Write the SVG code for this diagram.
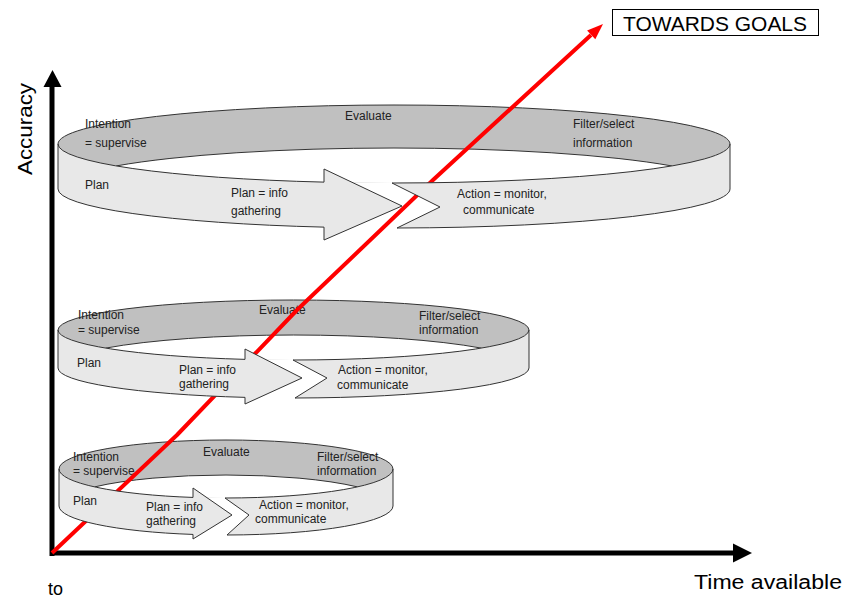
<svg xmlns="http://www.w3.org/2000/svg" width="846" height="599" viewBox="0 0 846 599">
<style>
.back{fill:#c0c0c0;stroke:none}
.hole{fill:#ffffff;stroke:none}
.edge{fill:none;stroke:#333;stroke-width:1}
.front{fill:#e8e8e8;stroke:#333;stroke-width:1;stroke-linejoin:miter}
.t{font-family:"Liberation Sans",Arial,sans-serif;font-size:12px;fill:#222}
.axis{stroke:#000;stroke-width:5;fill:none}
.lbl{font-family:"Liberation Sans",Arial,sans-serif;fill:#000}
</style>
<rect width="846" height="599" fill="#fff"/>

<g id="axes">
  <line class="axis" x1="52" y1="556" x2="52" y2="85"/>
  <polygon points="52.5,70 43.5,87 61.5,87" fill="#000"/>
  <line class="axis" x1="50" y1="553" x2="735" y2="553"/>
  <polygon points="752,553 733,543.5 733,562.5" fill="#000"/>
  <text class="lbl" font-size="21" textLength="92" lengthAdjust="spacingAndGlyphs" transform="translate(32,129) rotate(-90)" text-anchor="middle">Accuracy</text>
  <text class="lbl" x="694" y="589" font-size="20" textLength="148" lengthAdjust="spacingAndGlyphs">Time available</text>
  <text class="lbl" x="48" y="595" font-size="19" textLength="15" lengthAdjust="spacingAndGlyphs">to</text>
</g>

<!-- back halves of the rings -->
<g id="ring-top-back">
  <ellipse class="back" cx="394" cy="144" rx="336" ry="39"/>
  <path class="hole" d="M116.2,165.94 A336,41 0 0 1 671.8,165.94 A336,39 0 0 1 116.2,165.94 Z"/>
  <path class="edge" d="M58,144 A336,39 0 0 1 730,144"/>
  <path class="edge" d="M116.2,165.94 A336,41 0 0 1 671.8,165.94"/>
  <text class="t" x="85" y="128">Intention</text>
  <text class="t" x="85" y="147">= supervise</text>
  <text class="t" x="345" y="120">Evaluate</text>
  <text class="t" x="573" y="128">Filter/select</text>
  <text class="t" x="573" y="147">information</text>
</g>
<g id="ring-mid-back">
  <ellipse class="back" cx="293.5" cy="330" rx="235.5" ry="30"/>
  <path class="hole" d="M105.66,348.1 A235.5,33 0 0 1 481.34,348.1 A235.5,30 0 0 1 105.66,348.1 Z"/>
  <path class="edge" d="M58,330 A235.5,30 0 0 1 529,330"/>
  <path class="edge" d="M105.66,348.1 A235.5,33 0 0 1 481.34,348.1"/>
  <text class="t" x="78" y="319">Intention</text>
  <text class="t" x="78" y="334">= supervise</text>
  <text class="t" x="259" y="314">Evaluate</text>
  <text class="t" x="419" y="320">Filter/select</text>
  <text class="t" x="419" y="334">information</text>
</g>
<g id="ring-bot-back">
  <ellipse class="back" cx="226" cy="469" rx="167" ry="29"/>
  <path class="hole" d="M94.53,486.9 A167,31 0 0 1 357.47,486.9 A167,29 0 0 1 94.53,486.9 Z"/>
  <path class="edge" d="M59,469 A167,29 0 0 1 393,469"/>
  <path class="edge" d="M94.53,486.9 A167,31 0 0 1 357.47,486.9"/>
  <text class="t" x="73" y="461">Intention</text>
  <text class="t" x="73" y="475">= supervise</text>
  <text class="t" x="203" y="456">Evaluate</text>
  <text class="t" x="317" y="461">Filter/select</text>
  <text class="t" x="317" y="475">information</text>
</g>

<g id="connectors">
  <polyline points="52,553 177,435 297,310 433,180 591,35" fill="none" stroke="#ff0000" stroke-width="4" stroke-linejoin="round"/>
  <polygon points="603,24 595.3,39.2 587.1,30.4" fill="#ff0000"/>
</g>

<!-- front halves of the rings -->
<g id="ring-top-front">
  <path class="front" d="M58,144 A336,39 0 0 0 324,182.14 L324,169 L402,206 L324,240 L324,227.14 A336,39 0 0 1 58,189 Z"/>
  <path class="front" d="M392,183 A336,39 0 0 0 730,144 L730,189 A336,39 0 0 1 397,228 L440,207 Z"/>
  <text class="t" x="85" y="189">Plan</text>
  <text class="t" x="231" y="197">Plan = info</text>
  <text class="t" x="231" y="215">gathering</text>
  <text class="t" x="457" y="198">Action = monitor,</text>
  <text class="t" x="463" y="214">communicate</text>
</g>
<g id="ring-mid-front">
  <path class="front" d="M58,330 A235.5,30 0 0 0 245,359.36 L245,349 L302,378 L245,404 L245,397.36 A235.5,30 0 0 1 58,368 Z"/>
  <path class="front" d="M293,360 A235.5,30 0 0 0 529,330 L529,368 A235.5,30 0 0 1 295,398 L327,378 Z"/>
  <text class="t" x="77" y="367">Plan</text>
  <text class="t" x="179" y="374">Plan = info</text>
  <text class="t" x="179" y="388">gathering</text>
  <text class="t" x="338" y="374">Action = monitor,</text>
  <text class="t" x="337" y="389">communicate</text>
</g>
<g id="ring-bot-front">
  <path class="front" d="M59,469 A167,29 0 0 0 193,497.43 L193,488 L232,515 L193,539 L193,534.43 A167,29 0 0 1 59,506 Z"/>
  <path class="front" d="M225,498 A167,29 0 0 0 393,469 L393,506 A167,29 0 0 1 227,535 L249,515 Z"/>
  <text class="t" x="73" y="505">Plan</text>
  <text class="t" x="146" y="511">Plan = info</text>
  <text class="t" x="146" y="525">gathering</text>
  <text class="t" x="259" y="509">Action = monitor,</text>
  <text class="t" x="255" y="523">communicate</text>
</g>

<g id="goal">
  <rect x="612.5" y="9.5" width="206" height="26" fill="#fff" stroke="#000" stroke-width="1"/>
  <text class="lbl" x="623" y="31" font-size="20" textLength="184" lengthAdjust="spacingAndGlyphs">TOWARDS GOALS</text>
</g>
</svg>
